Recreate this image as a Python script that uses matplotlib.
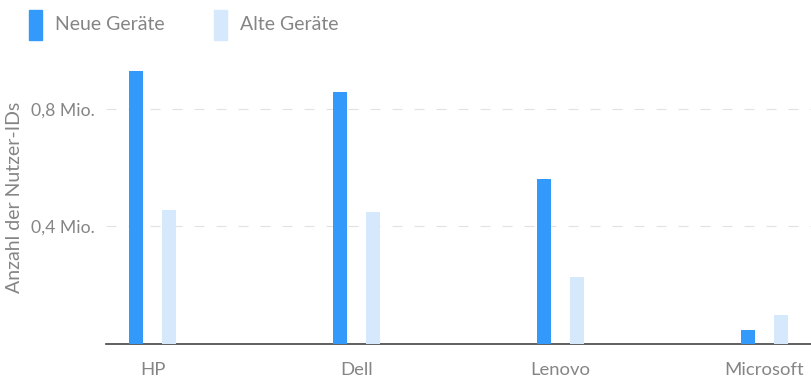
import numpy as np
import matplotlib
matplotlib.use("Agg")
import matplotlib.pyplot as plt
from matplotlib.patches import Rectangle

brands = ["HP", "Dell", "Lenovo", "Microsoft"]
neue = [0.93, 0.858, 0.561, 0.048]
alte = [0.455, 0.448, 0.229, 0.099]
series_names = ["Neue Geräte", "Alte Geräte"]
yticks = [0.4, 0.8]
ytick_labels = ["0,4 Mio.", "0,8 Mio."]

blue = "#3399FA"
light = "#D6E9FC"
txt = "#858585"

plt.rcParams["font.family"] = ["Lato", "DejaVu Sans"]

W, H = 811, 378
fig = plt.figure(figsize=(W / 100, H / 100), dpi=100)
ax = fig.add_axes([106 / W, 1 - 344 / H, 1 - 106 / W, (344 - 50) / H])

x = np.arange(len(brands))
off = 16.5 / 204
bw = 13.5 / 204
ax.bar(x - off, neue, width=bw, color=blue, zorder=3)
ax.bar(x + off, alte, width=bw, color=light, zorder=3)

ax.set_xlim(-0.228, 3.228)
ax.set_ylim(0, 1.0)
ax.set_xticks(x)
ax.set_xticklabels(brands)
ax.set_yticks(yticks)
ax.set_yticklabels(ytick_labels)
ax.tick_params(axis="both", length=0, colors=txt)
ax.tick_params(axis="x", pad=13, labelsize=13.3)
ax.tick_params(axis="y", pad=8, labelsize=12.7)

for t in yticks:
    ax.axhline(t, color="#e2e2e2", lw=0.8, dashes=(9, 10.8), zorder=1)

for s in ["top", "right", "left"]:
    ax.spines[s].set_visible(False)
ax.spines["bottom"].set_color("#444444")
ax.spines["bottom"].set_linewidth(1.2)

# y axis title
fig.text(15 / W, 1 - 197 / H, "Anzahl der Nutzer-IDs", fontsize=14, color=txt,
         rotation=90, ha="center", va="center")

# legend
for px, name, col in [(29, series_names[0], blue), (214, series_names[1], light)]:
    fig.patches.append(Rectangle((px / W, 1 - 40 / H), 13 / W, 30 / H,
                                 transform=fig.transFigure, color=col))
    fig.text((px + 26) / W, 1 - 25 / H, name, fontsize=14, color=txt,
             va="center", ha="left")

fig.savefig("out.png", dpi=100)
